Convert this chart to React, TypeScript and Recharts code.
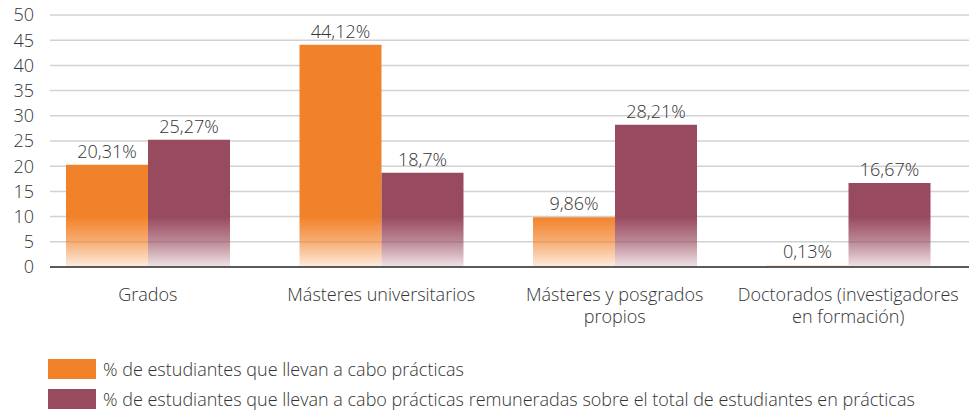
// Bar chart: share of students doing internships, and the paid share, per study level.
// Bars fade out toward the baseline, legend sits below as plain HTML.

import { BarChart, Bar, XAxis, YAxis, CartesianGrid, LabelList } from 'recharts'

const categories = [
  'Grados',
  'Másteres universitarios',
  'Másteres y posgrados\npropios',
  'Doctorados (investigadores\nen formación)',
]
const practicas = [20.31, 44.12, 9.86, 0.13]
const remuneradas = [25.27, 18.7, 28.21, 16.67]
const seriesNames = [
  '% de estudiantes que llevan a cabo prácticas',
  '% de estudiantes que llevan a cabo prácticas remuneradas sobre el total de estudiantes en prácticas',
]
const yTicks = [0, 5, 10, 15, 20, 25, 30, 35, 40, 45, 50]

const ORANGE = '#F2822A'
const MAROON = '#984A5E'
const TEXT = '#333333'
const FONT = '"Open Sans", Lato, sans-serif'
const FS = 18

const W = 973
const H = 412
const TOP = 15
const PLOT_H = 252
const Y_MAX = 50

const data = categories.map((name, i) => ({
  name,
  practicas: practicas[i],
  remuneradas: remuneradas[i],
}))

const yOf = (v: number) => TOP + PLOT_H * (1 - v / Y_MAX)

const fmt = (v: number) => String(v).replace('.', ',') + '%'

function CategoryTick({ x, y, payload }: any) {
  const lines = String(payload.value).split('\n')
  return (
    <text x={x} y={y} textAnchor="middle" fill={TEXT} fontSize={FS} fontFamily={FONT} fontWeight={300}>
      {lines.map((l, i) => (
        <tspan key={i} x={x} dy={i === 0 ? 32 : 22}>
          {l}
        </tspan>
      ))}
    </text>
  )
}

export default function App() {
  const colors = [ORANGE, MAROON]
  return (
    <div style={{ position: 'absolute', left: 0, top: 0, width: W, height: H, background: '#fff' }}>
      <BarChart
        width={W}
        height={H}
        data={data}
        margin={{ top: TOP, right: 4, bottom: 0, left: 0 }}
        barGap={0}
        barSize={82}
      >
        <defs>
          {colors.map((c, i) => (
            <linearGradient
              key={i}
              id={`fade${i}`}
              gradientUnits="userSpaceOnUse"
              x1={0}
              x2={0}
              y1={yOf(10)}
              y2={yOf(0)}
            >
              <stop offset="0" stopColor={c} stopOpacity={1} />
              <stop offset="0.5" stopColor={c} stopOpacity={0.65} />
              <stop offset="1" stopColor={c} stopOpacity={0.15} />
            </linearGradient>
          ))}
        </defs>
        <CartesianGrid vertical={false} stroke="#d2d2d2" strokeWidth={1.5} />
        <XAxis
          dataKey="name"
          height={H - TOP - PLOT_H}
          interval={0}
          tickLine={false}
          tickSize={0}
          tick={<CategoryTick />}
          axisLine={{ stroke: '#5a5a5a', strokeWidth: 2 }}
          padding={{ left: -19, right: 4 }}
        />
        <YAxis
          domain={[0, Y_MAX]}
          ticks={yTicks}
          interval={0}
          width={50}
          axisLine={false}
          tickLine={false}
          tickSize={0}
          tickMargin={16}
          tick={{ fill: TEXT, fontSize: FS, fontFamily: FONT, fontWeight: 300 }}
        />
        <Bar dataKey="practicas" fill="url(#fade0)" isAnimationActive={false} minPointSize={2}>
          <LabelList
            dataKey="practicas"
            position="top"
            offset={7}
            formatter={fmt}
            fill={TEXT}
            fontSize={FS}
            fontFamily={FONT}
            fontWeight={300}
          />
        </Bar>
        <Bar dataKey="remuneradas" fill="url(#fade1)" isAnimationActive={false}>
          <LabelList
            dataKey="remuneradas"
            position="top"
            offset={7}
            formatter={fmt}
            fill={TEXT}
            fontSize={FS}
            fontFamily={FONT}
            fontWeight={300}
          />
        </Bar>
      </BarChart>
      <div style={{ position: 'absolute', left: 48, top: 359, fontFamily: FONT, fontWeight: 300, fontSize: FS, color: TEXT }}>
        {seriesNames.map((n, i) => (
          <div key={i} style={{ display: 'flex', alignItems: 'center', height: 20, marginBottom: 10 }}>
            <span style={{ display: 'inline-block', width: 48, height: 20, background: colors[i], marginRight: 7 }} />
            <span style={{ whiteSpace: 'nowrap' }}>{n}</span>
          </div>
        ))}
      </div>
    </div>
  )
}
